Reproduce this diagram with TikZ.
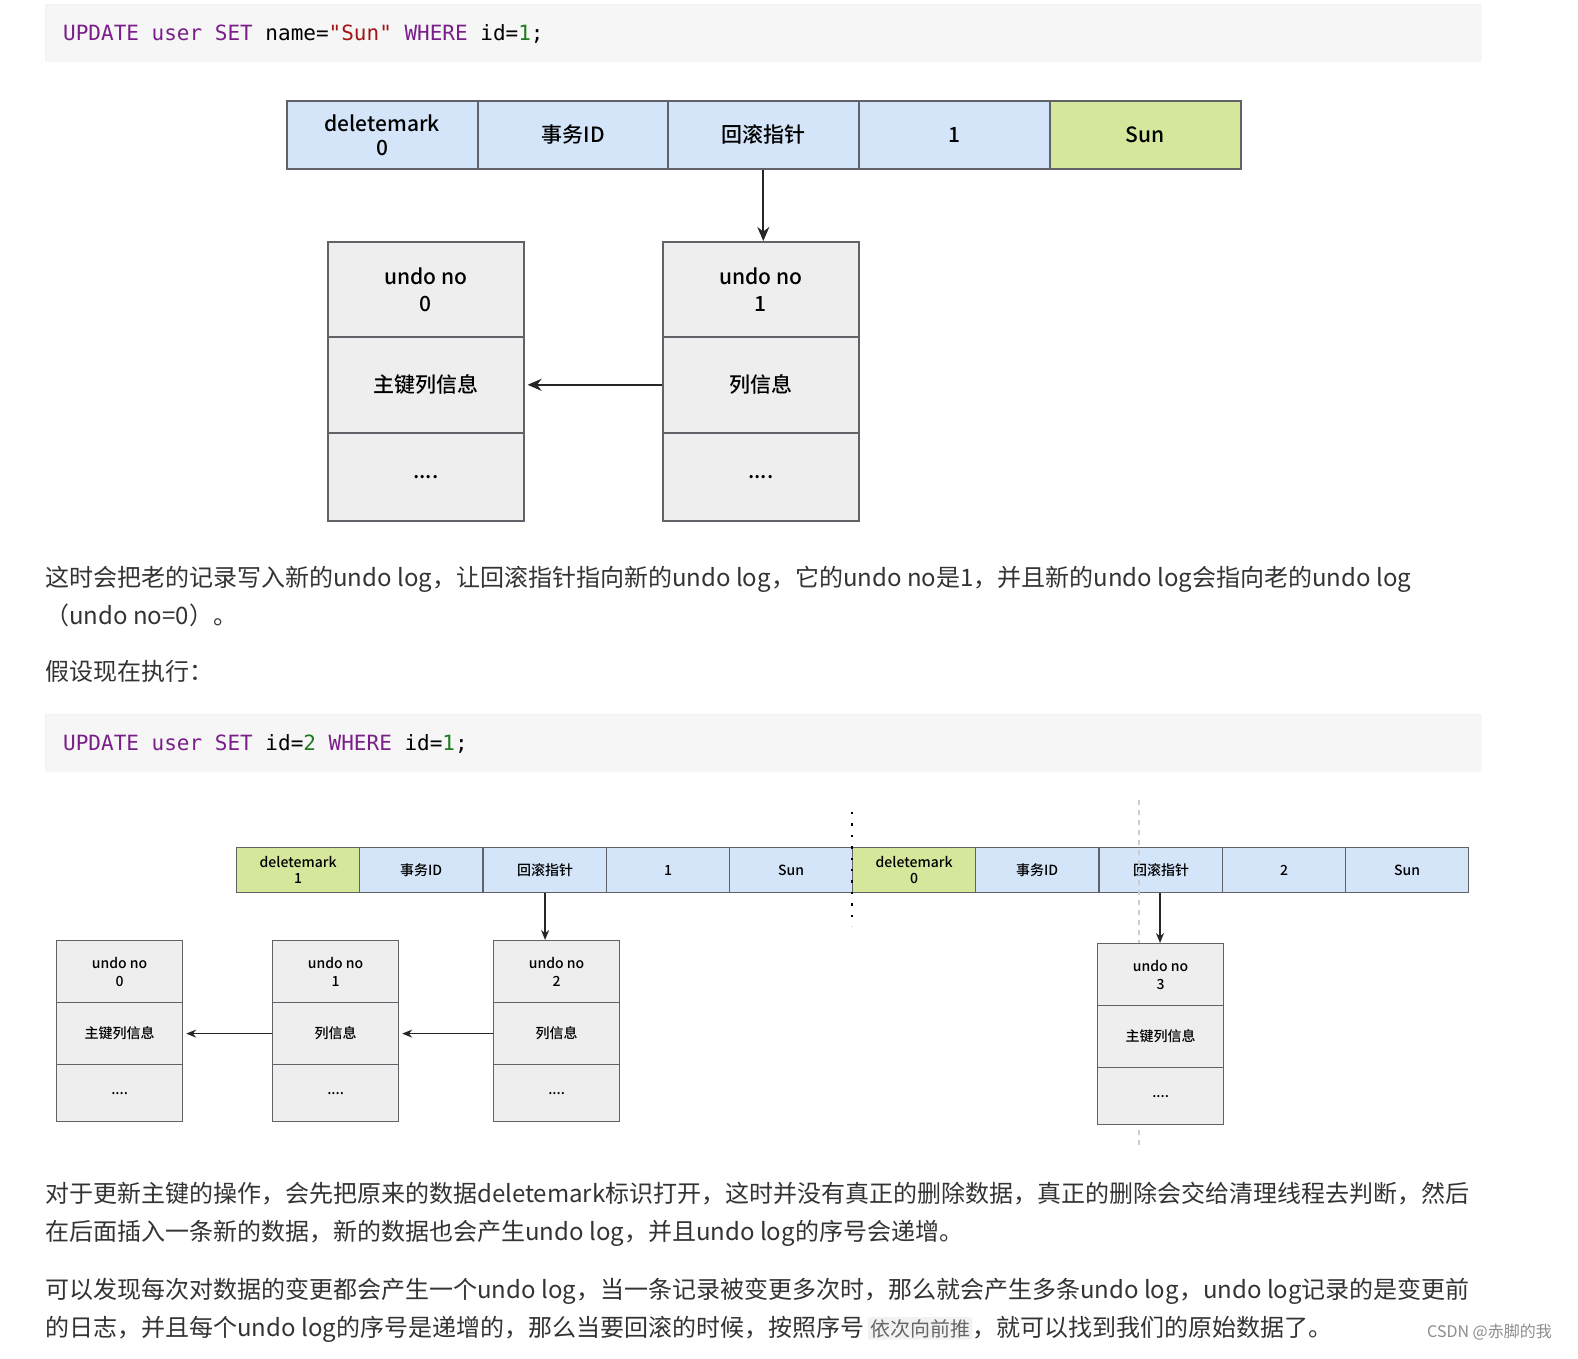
\documentclass[tikz,border=0pt]{standalone}
\usepackage{fontspec}
\setmainfont{Noto Sans CJK SC}
\newfontfamily\cjk{Noto Sans CJK SC Medium}
\newfontfamily\codef{DejaVu Sans Mono}
\usetikzlibrary{arrows.meta}
\definecolor{cblue}{HTML}{D4E5FA}
\definecolor{cgreen}{HTML}{D5E79A}
\definecolor{cgrey}{HTML}{EEEEEE}
\definecolor{bord}{HTML}{5F6368}
\definecolor{kw}{HTML}{7A1E8A}
\definecolor{strc}{HTML}{A31515}
\definecolor{numc}{HTML}{1E7B1E}
\definecolor{txt}{HTML}{333333}
\begin{document}
\begin{tikzpicture}[x=1pt,y=-1pt,
  cellA/.style={draw=bord,line width=1.6pt,minimum width=191pt,minimum height=68pt,inner sep=0,anchor=north west,font=\fontsize{21}{24}\selectfont\cjk,align=center},
  cellB/.style={draw=bord,line width=1.2pt,minimum width=123pt,minimum height=45pt,inner sep=0,anchor=north west,font=\fontsize{14}{16}\selectfont\cjk,align=center},
  undoA/.style={draw=bord,line width=1.6pt,fill=cgrey,minimum width=196pt,inner sep=0,anchor=north west,font=\fontsize{21}{27}\selectfont\cjk,align=center},
  undoB/.style={draw=bord,line width=1.2pt,fill=cgrey,minimum width=126pt,inner sep=0,anchor=north west,font=\fontsize{14}{18}\selectfont\cjk,align=center},
  arr/.style={-{Stealth[length=14pt,width=12pt]},line width=2pt,black!85},
  arrb/.style={-{Stealth[length=10pt,width=8pt]},line width=1.4pt,black!85},
  para/.style={anchor=base west,inner sep=0,text=txt,font=\fontsize{24}{28}\selectfont},
  codebox/.style={fill=black!3.5,draw=black!8,rounded corners=2pt},
  code/.style={anchor=base west,inner sep=0,font=\fontsize{21}{24}\selectfont\codef}
]
\useasboundingbox (0,0) rectangle (1578,1358);
\node[codebox,minimum width=1436pt,minimum height=57pt,anchor=north west] (cb1) at (45,4) {};
\node[code] (c1) at (63,40) {\textcolor{kw}{UPDATE} \textcolor{kw}{user} \textcolor{kw}{SET} name=\textcolor{strc}{"Sun"} \textcolor{kw}{WHERE} id=\textcolor{numc}{1};};
\node[codebox,minimum width=1436pt,minimum height=57pt,anchor=north west] (cb2) at (45,714) {};
\node[code] (c2) at (63,750) {\textcolor{kw}{UPDATE} \textcolor{kw}{user} \textcolor{kw}{SET} id=\textcolor{numc}{2} \textcolor{kw}{WHERE} id=\textcolor{numc}{1};};

\node[cellA,fill=cblue] (t1) at (286,100) {deletemark\\0};
\node[cellA,fill=cblue] (t2) at (477,100) {事务ID};
\node[cellA,fill=cblue] (t3) at (667,100) {回滚指针};
\node[cellA,fill=cblue] (t4) at (858,100) {1};
\node[cellA,fill=cgreen] (t5) at (1049,100) {Sun};
\node[undoA,minimum height=96pt] (ua1) at (327,241) {undo no\\0};
\node[undoA,minimum height=96pt] (ua2) at (327,336) {主键列信息};
\node[undoA,minimum height=88pt] (ua3) at (327,432) {....};
\node[undoA,minimum height=96pt] (ub1) at (662,241) {undo no\\1};
\node[undoA,minimum height=96pt] (ub2) at (662,336) {列信息};
\node[undoA,minimum height=88pt] (ub3) at (662,432) {....};
\draw[arr] (t3.south) -- (t3.south |- ub1.north);
\draw[arr] (ub2.west) -- ([xshift=3pt]ua2.east);

\node[para] (p1) at (45,586) {这时会把老的记录写入新的undo log，让回滚指针指向新的undo log，它的undo no是1，并且新的undo log会指向老的undo log};
\node[para] (p2) at (45,624) {（undo no=0）。};
\node[para] (p3) at (45,680) {假设现在执行：};

\node[cellB,fill=cgreen] (b1) at (236,847) {deletemark\\1};
\node[cellB,fill=cblue] (b2) at (359,847) {事务ID};
\node[cellB,fill=cblue] (b3) at (483,847) {回滚指针};
\node[cellB,fill=cblue] (b4) at (606,847) {1};
\node[cellB,fill=cblue] (b5) at (729,847) {Sun};
\node[cellB,fill=cgreen] (b6) at (852,847) {deletemark\\0};
\node[cellB,fill=cblue] (b7) at (975,847) {事务ID};
\node[cellB,fill=cblue] (b8) at (1099,847) {回滚指针};
\node[cellB,fill=cblue] (b9) at (1222,847) {2};
\node[cellB,fill=cblue] (b10) at (1345,847) {Sun};
\coordinate (dt) at (852,812);
\coordinate (db) at (852,926);
\draw[line width=2.4pt,dash pattern=on 2.4pt off 9pt] (dt) -- (db);
\coordinate (gt) at (1139,800);
\coordinate (gb) at (1139,1146);
\draw[black!20,line width=1.2pt,dash pattern=on 5pt off 5pt] (gt) -- (gb);

\foreach \n/\x/\y/\a/\b in {u0/56/940/0/主键列信息,u1/272/940/1/列信息,u2/493/940/2/列信息,u3/1097/943/3/主键列信息}{
  \node[undoB,minimum height=62pt] (\n a) at (\x,\y) {undo no\\\a};
  \node[undoB,minimum height=62pt] (\n b) at (\x,\y+62) {\b};
  \node[undoB,minimum height=57pt] (\n c) at (\x,\y+124) {....};
}
\draw[arrb] (b3.south) -- (u2a.north -| b3.south);
\draw[arrb] (b8.south -| 1160,0) -- (u3a.north -| 1160,0);
\draw[arrb] (u1b.west) -- ([xshift=3pt]u0b.east);
\draw[arrb] (u2b.west) -- ([xshift=3pt]u1b.east);

\node[para] (p4) at (45,1202) {对于更新主键的操作，会先把原来的数据deletemark标识打开，这时并没有真正的删除数据，真正的删除会交给清理线程去判断，然后};
\node[para] (p5) at (45,1240) {在后面插入一条新的数据，新的数据也会产生undo log，并且undo log的序号会递增。};
\node[para] (p6) at (45,1298) {可以发现每次对数据的变更都会产生一个undo log，当一条记录被变更多次时，那么就会产生多条undo log，undo log记录的是变更前};
\node[para] (p7) at (45,1336) {的日志，并且每个undo log的序号是递增的，那么当要回滚的时候，按照序号\,\tikz[baseline=(h.base)]\node[fill=black!5,rounded corners=2pt,inner sep=2pt,text=black!60,font=\fontsize{20}{24}\selectfont] (h) {依次向前推};，就可以找到我们的原始数据了。};
\node[anchor=base east,inner sep=0,text=black!45,font=\fontsize{16}{18}\selectfont] (wm) at (1552,1337) {CSDN @赤脚的我};
\end{tikzpicture}
\end{document}
